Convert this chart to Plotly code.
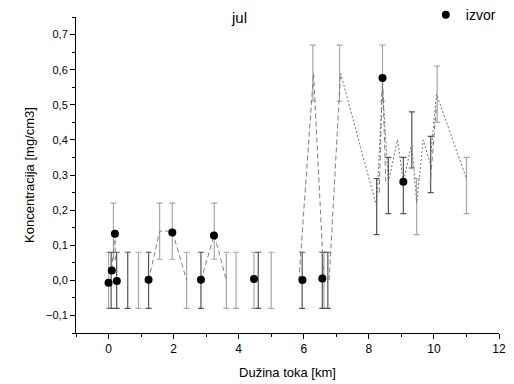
import plotly.graph_objects as go

# ---- data ----
izvor_x = [0.0, 0.1, 0.195, 0.255, 1.23, 1.96, 2.84, 3.24, 4.47, 5.96, 6.57, 8.42, 9.06]
izvor_y = [-0.007, 0.028, 0.133, -0.002, 0.002, 0.136, 0.002, 0.128, 0.004, 0.001, 0.005, 0.576, 0.281]

# error-bar series (hidden markers), dark bars
dark_x = [0.25, 0.59, 1.23, 2.84, 4.6, 5.95, 6.57, 6.74, 8.24, 8.6, 9.06, 9.32, 9.9, 0.08]
dark_y = [0.0, 0.0, 0.0, 0.0, 0.0, 0.0, 0.0, 0.0, 0.21, 0.27, 0.27, 0.40, 0.33, 0.0]
dark_err = [0.08] * len(dark_x)

# error-bar series (hidden markers), light bars
light_x = [0.0, 0.15, 0.92, 1.57, 1.96, 2.4, 3.25, 3.62, 3.92, 4.47, 5.0, 6.62, 6.28, 7.1, 8.42, 9.47, 10.1, 11.0]
light_y = [0.0, 0.14, 0.0, 0.14, 0.14, 0.0, 0.14, 0.0, 0.0, 0.0, 0.0, 0.0, 0.59, 0.59, 0.59, 0.21, 0.53, 0.27]
light_err = [0.08] * len(light_x)

# dashed connecting line (segments separated by None)
dash_x = [0.1, 0.195, 0.21, None, 1.23, 1.57, 1.96, 2.4, None, 2.84, 3.25, 3.62, None,
          5.85, 6.3, 6.62, None, 6.78, 7.13, None, 8.32, 8.42, 8.52, None, 9.88, 10.08]
dash_y = [0.03, 0.13, 0.06, None, 0.0, 0.14, 0.14, 0.0, None, 0.0, 0.13, 0.0, None,
          0.0, 0.59, 0.0, None, 0.0, 0.59, None, 0.25, 0.58, 0.28, None, 0.27, 0.5]

# dotted connecting line
dot_x = [7.13, 8.24, 8.42, 8.6, 8.88, 9.06, 9.32, 9.47, 9.67, 9.88, 10.08, 11.0]
dot_y = [0.59, 0.21, 0.55, 0.28, 0.40, 0.28, 0.39, 0.22, 0.40, 0.335, 0.53, 0.29]

x_ticks = [0, 2, 4, 6, 8, 10, 12]
y_ticks = [-0.1, 0.0, 0.1, 0.2, 0.3, 0.4, 0.5, 0.6, 0.7]

fig = go.Figure()

fig.add_trace(go.Scatter(
    x=light_x, y=light_y, mode="markers",
    marker=dict(size=2, color="rgba(0,0,0,0)"),
    error_y=dict(type="data", array=light_err, color="#a8a8a8", thickness=1.2, width=3),
    showlegend=False, hoverinfo="skip"))

fig.add_trace(go.Scatter(
    x=dark_x, y=dark_y, mode="markers",
    marker=dict(size=2, color="rgba(0,0,0,0)"),
    error_y=dict(type="data", array=dark_err, color="#555555", thickness=1.2, width=3),
    showlegend=False, hoverinfo="skip"))

fig.add_trace(go.Scatter(
    x=dash_x, y=dash_y, mode="lines",
    line=dict(color="#808080", width=1, dash="5px,3px"),
    connectgaps=False, showlegend=False, hoverinfo="skip"))

fig.add_trace(go.Scatter(
    x=dot_x, y=dot_y, mode="lines",
    line=dict(color="#707070", width=1, dash="2px,2px"),
    showlegend=False, hoverinfo="skip"))

fig.add_trace(go.Scatter(
    x=izvor_x, y=izvor_y, mode="markers", name="izvor",
    marker=dict(size=8, color="black"),
    showlegend=True))

font_family = "Liberation Sans, Arial, sans-serif"

fig.update_layout(
    width=514, height=384,
    margin=dict(l=76, r=15, t=17, b=51, autoexpand=False),
    paper_bgcolor="white", plot_bgcolor="white",
    separators=", ",
    font=dict(family=font_family, size=12, color="black"),
    legend=dict(x=0.827, y=1.006, xanchor="left", yanchor="middle",
                bgcolor="rgba(0,0,0,0)", font=dict(size=14),
                itemsizing="trace"),
    annotations=[dict(text="jul", x=0.385, y=1.0, xref="paper", yref="paper",
                      xanchor="center", yanchor="middle", showarrow=False,
                      font=dict(size=15, family=font_family))],
)

fig.update_xaxes(
    range=[-1, 12], tickvals=x_ticks, ticks="outside", ticklen=5, tickwidth=1,
    tickcolor="black", showline=True, linecolor="black", linewidth=1,
    showgrid=False, zeroline=False, mirror=False,
    minor=dict(dtick=1, ticks="outside", ticklen=3, tickcolor="black"),
    title=dict(text="Dužina toka [km]", font=dict(size=13), standoff=12),
    tickfont=dict(size=12))

fig.update_yaxes(
    range=[-0.15, 0.75], tickvals=y_ticks, tickformat=".1f", ticks="outside",
    ticklen=5, tickwidth=1, tickcolor="black", showline=True, linecolor="black",
    linewidth=1, showgrid=False, zeroline=False, mirror=False,
    minor=dict(dtick=0.05, tick0=0, ticks="outside", ticklen=3, tickcolor="black"),
    title=dict(text="Koncentracija [mg/cm3]", font=dict(size=13), standoff=8),
    tickfont=dict(size=11))

fig.write_html("out.html")
